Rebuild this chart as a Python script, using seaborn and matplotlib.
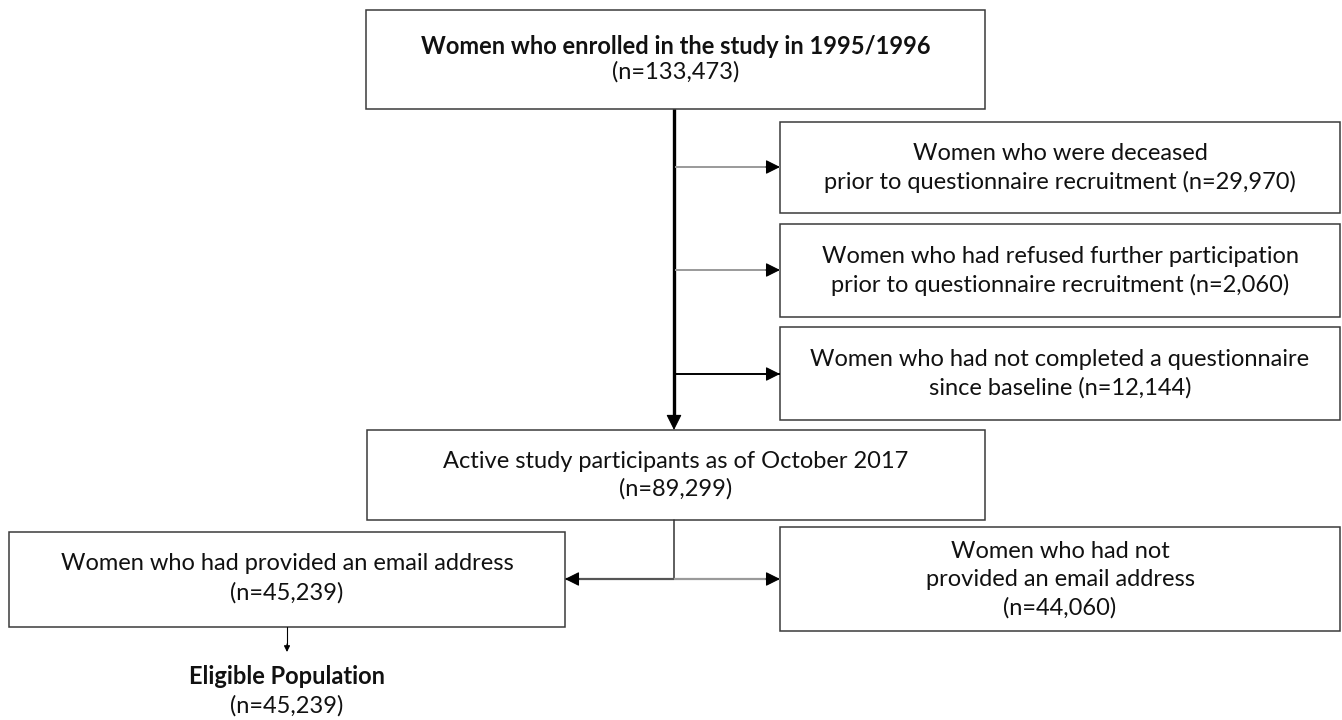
"""
Participant flow diagram – cohort to eligible population
"""

import numpy as np
import pandas as pd
import matplotlib
matplotlib.use("Agg")
import matplotlib.pyplot as plt
from matplotlib.patches import Rectangle
import seaborn as sns

# ── 1. Data ─────────────────────────────────────────────────────────────────────
stage_labels = [
    "Women who enrolled in the study in 1995/1996",
    "Active study participants as of October 2017",
    "Women who had provided an email address",
    "Eligible Population",
]
stage_counts = [133473, 89299, 45239, 45239]

exclusion_labels = [
    "Women who were deceased\nprior to questionnaire recruitment",
    "Women who had refused further participation\nprior to questionnaire recruitment",
    "Women who had not completed a questionnaire\nsince baseline",
]
exclusion_counts = [29970, 2060, 12144]

no_email_label = "Women who had not\nprovided an email address"
no_email_count = 44060

def n_text(n):
    return f"(n={n:,})"

# ── 2. Layout (pixel space, y pointing down) ────────────────────────────────────
W, H = 1342, 720
FS = 17
EDGE = "#3a3a3a"
GREY = "#9a9a9a"

sns.set_theme(style="white")
plt.rcParams["font.family"] = ["Lato", "DejaVu Sans"]

fig = plt.figure(figsize=(W / 100, H / 100), dpi=100)
ax = fig.add_axes([0, 0, 1, 1])
ax.set_xlim(0, W)
ax.set_ylim(H, 0)
ax.axis("off")


def box(x0, y0, x1, y1):
    ax.add_patch(Rectangle((x0, y0), x1 - x0, y1 - y0, fill=False,
                           edgecolor=EDGE, linewidth=1.1))


def head(x0, y0, x1, y1, ms=22):
    # black filled arrow head on a short stub ending at (x1, y1)
    ax.annotate("", xy=(x1, y1), xytext=(x0, y0),
                arrowprops=dict(arrowstyle="-|>", color="black", lw=0.8,
                                mutation_scale=ms, shrinkA=0, shrinkB=0))


def connector(x0, y0, x1, y1, color, lw):
    ax.plot([x0, x1], [y0, y1], color=color, lw=lw, solid_capstyle="butt")
    # stub for the head, pointing the same way
    dx, dy = np.sign(x1 - x0), np.sign(y1 - y0)
    head(x1 - 14 * dx, y1 - 14 * dy, x1, y1)


def lines(x, ys, texts, weights=None):
    weights = weights or ["normal"] * len(texts)
    for y, t, w in zip(ys, texts, weights):
        ax.text(x, y, t, ha="center", va="center", fontsize=FS,
                fontweight=w, color="#111111")


# top box – enrolment
box(366, 10, 985, 109)
lines(676, [46, 72], [stage_labels[0], n_text(stage_counts[0])], ["bold", "normal"])

# main trunk
ax.plot([674, 674], [109, 420], color="black", lw=2.4, solid_capstyle="butt")
head(674, 412, 674, 430, ms=24)

# exclusion boxes
excl_boxes = [(122, 213), (224, 317), (327, 420)]
excl_arrow_y = [167, 270, 374]
excl_colors = [GREY, GREY, "black"]
for (y0, y1), ya, col, lab, n in zip(excl_boxes, excl_arrow_y, excl_colors,
                                     exclusion_labels, exclusion_counts):
    box(780, y0, 1340, y1)
    connector(675, ya, 780, ya, col, 1.4)
    first, second = lab.split("\n")
    second = second + " " + n_text(n)
    cy = (y0 + y1) / 2
    lines(1060, [cy - 14, cy + 14], [first, second])

# active participants
box(367, 430, 985, 520)
lines(676, [462, 489], [stage_labels[1], n_text(stage_counts[1])])

# split by email
ax.plot([674, 674], [520, 579], color="#333333", lw=1.1)
connector(674, 579, 565, 579, "#555555", 1.6)
connector(674, 579, 780, 579, "#9a9a9a", 1.6)

box(9, 532, 565, 627)
lines(287, [563, 593], [stage_labels[2], n_text(stage_counts[2])])

box(780, 527, 1340, 631)
nl1, nl2 = no_email_label.split("\n")
lines(1060, [552, 580, 608], [nl1, nl2, n_text(no_email_count)])

# eligible population
ax.plot([287, 287], [627, 646], color="black", lw=0.8)
head(287, 644, 287, 652, ms=9)
lines(287, [677, 706], [stage_labels[3], n_text(stage_counts[3])], ["bold", "normal"])

fig.savefig("out.png", dpi=100, facecolor="white")
